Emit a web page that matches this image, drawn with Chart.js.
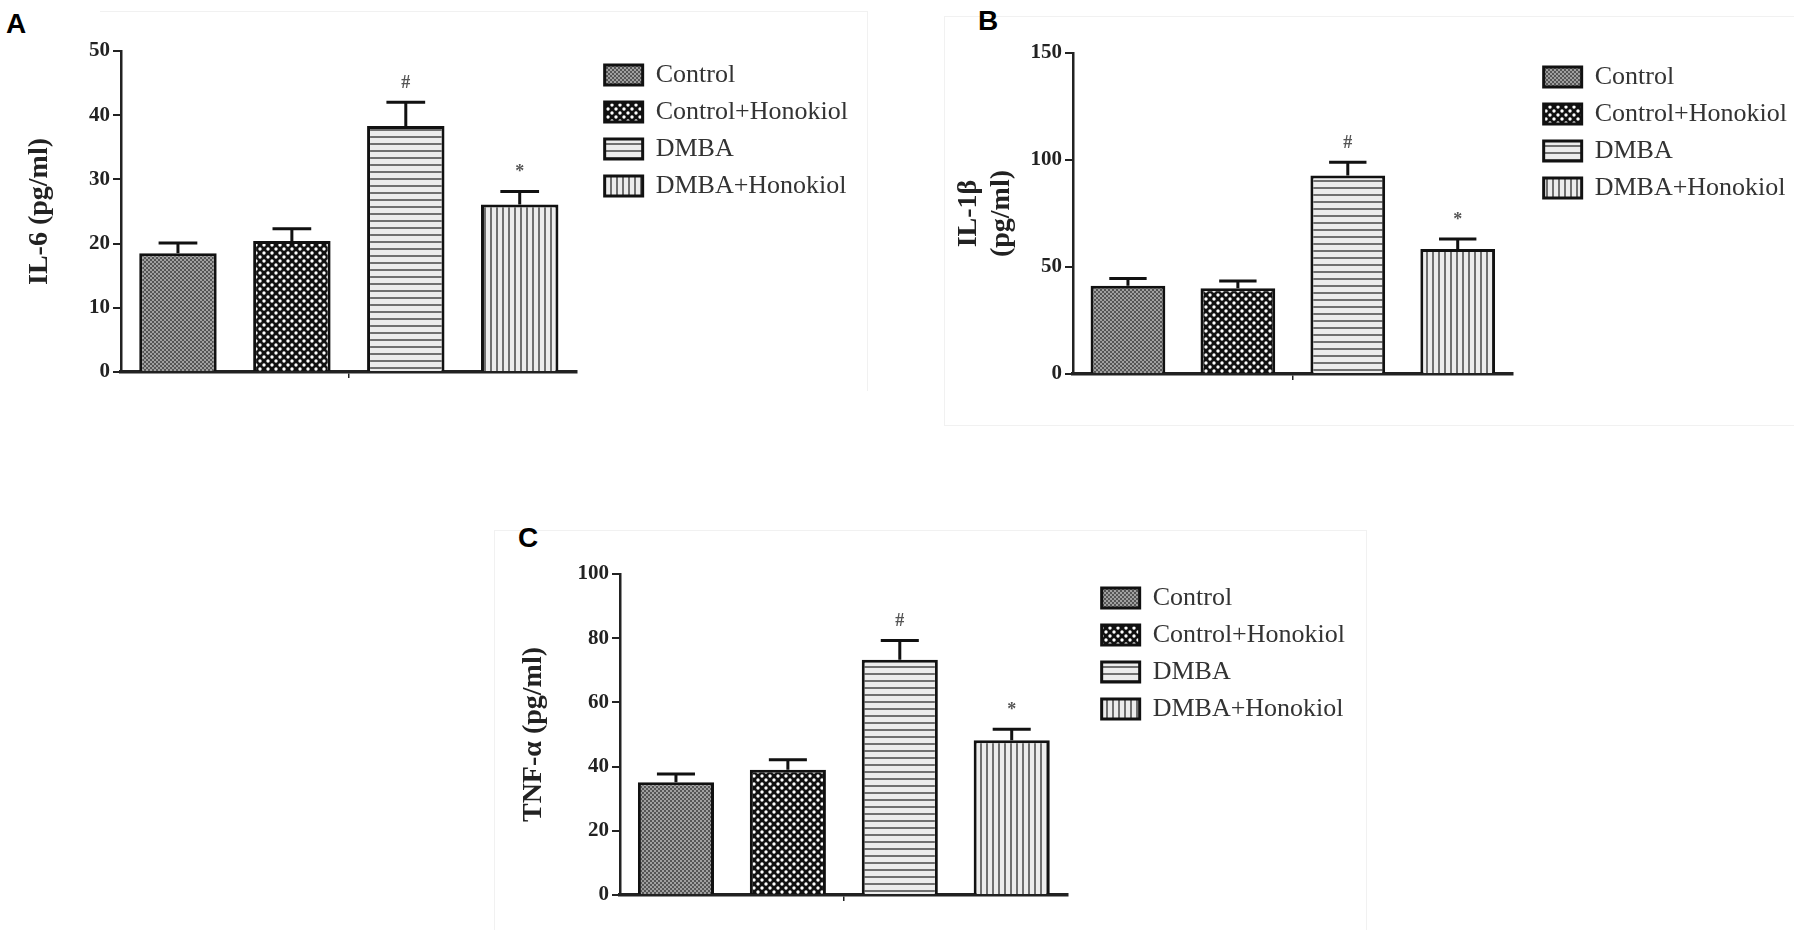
<!DOCTYPE html>
<html>
<head>
<meta charset="utf-8">
<script src="https://cdn.jsdelivr.net/npm/chart.js@4.4.1/dist/chart.umd.min.js"></script>
<style>
html, body { margin: 0; padding: 0; background: #fff; }
body { width: 1800px; height: 936px; position: relative; overflow: hidden; }
.panel { position: absolute; }
.frame { position: absolute; border: 1px solid #f1f1f1; box-sizing: border-box; }
.letter { position: absolute; font-family: 'Liberation Sans', Arial, sans-serif; font-weight: bold; font-size: 28px; line-height: 1; color: #000; }
</style>
</head>
<body>
<div class="frame" style="left:100px;top:11px;width:768px;height:380px;border-left:none;border-bottom:none"></div>
<div class="frame" style="left:944px;top:16px;width:850px;height:410px;border-right:none"></div>
<div class="frame" style="left:494px;top:530px;width:873px;height:400px;border-bottom:none"></div>

<div class="letter" style="left:6px;top:10px">A</div>
<div class="letter" style="left:978px;top:7px">B</div>
<div class="letter" style="left:518px;top:524px">C</div>

<div class="panel" style="left:10px;top:31px;width:848px;height:361px"><canvas id="chartA"></canvas></div>
<div class="panel" style="left:940px;top:33px;width:857px;height:361px"><canvas id="chartB"></canvas></div>
<div class="panel" style="left:500px;top:554px;width:855px;height:361px"><canvas id="chartC"></canvas></div>

<script>
const groups = ['Control', 'Control+Honokiol', 'DMBA', 'DMBA+Honokiol'];
const sigMarks = ['', '', '#', '*'];

const il6Mean = [18.5, 20.4, 38.3, 26.1];
const il6Sem = [1.6, 1.9, 3.7, 2.0];

const il1bMean = [41.2, 40.1, 92.7, 58.4];
const il1bSem = [3.4, 3.3, 6.3, 4.7];

const tnfMean = [35.1, 39.0, 73.3, 48.2];
const tnfSem = [2.6, 3.1, 6.0, 3.4];

const serif = "'Liberation Serif', 'Times New Roman', serif";

// fill patterns like the GraphPad ones
function makePattern(kind) {
    const c = document.createElement('canvas');
    const g = c.getContext('2d');
    if (kind === 'fine') {
        c.width = c.height = 4;
        g.fillStyle = '#a0a0a0';
        g.fillRect(0, 0, 4, 4);
        g.fillStyle = '#555';
        g.fillRect(0, 0, 2, 2);
        g.fillRect(2, 2, 2, 2);
    } else if (kind === 'dots') {
        c.width = c.height = 8;
        g.fillStyle = '#111';
        g.fillRect(0, 0, 8, 8);
        g.fillStyle = '#fff';
        g.beginPath();
        g.arc(2, 2, 1.7, 0, Math.PI * 2);
        g.arc(6, 6, 1.7, 0, Math.PI * 2);
        g.fill();
    } else if (kind === 'hlines') {
        c.width = 7; c.height = 7;
        g.fillStyle = '#ececec';
        g.fillRect(0, 0, 7, 7);
        g.fillStyle = '#707070';
        g.fillRect(0, 0, 7, 2);
    } else {
        c.width = 6; c.height = 6;
        g.fillStyle = '#ececec';
        g.fillRect(0, 0, 6, 6);
        g.fillStyle = '#707070';
        g.fillRect(0, 0, 2, 6);
    }
    return g.createPattern(c, 'repeat');
}

const fills = [makePattern('fine'), makePattern('dots'), makePattern('hlines'), makePattern('vlines')];

const errorBars = {
    id: 'errorBars',
    afterDatasetsDraw(chart) {
        const ctx = chart.ctx;
        const y = chart.scales.y;
        chart.data.datasets.forEach((ds, i) => {
            const bar = chart.getDatasetMeta(i).data[0];
            const top = y.getPixelForValue(ds.data[0] + ds.sem);
            const half = bar.width * 0.25;
            ctx.save();
            ctx.strokeStyle = '#111';
            ctx.lineWidth = 3;
            ctx.beginPath();
            ctx.moveTo(bar.x, bar.y);
            ctx.lineTo(bar.x, top);
            ctx.moveTo(bar.x - half, top);
            ctx.lineTo(bar.x + half, top);
            ctx.stroke();
            if (ds.mark) {
                ctx.fillStyle = '#555';
                ctx.font = 'bold 18px ' + serif;
                ctx.textAlign = 'center';
                ctx.textBaseline = 'middle';
                ctx.fillText(ds.mark, bar.x, top - 19);
            }
            ctx.restore();
        });
    }
};

function makeChart(id, means, sems, yMax, yStep, yTitle, box) {
    const ctx = document.getElementById(id).getContext('2d');
    return new Chart(ctx, {
        type: 'bar',
        data: {
            labels: [''],
            datasets: groups.map((g, i) => ({
                label: g,
                data: [means[i]],
                sem: sems[i],
                mark: sigMarks[i],
                backgroundColor: fills[i],
                borderColor: '#111',
                borderWidth: 3,
                categoryPercentage: 1.0,
                barPercentage: 0.68,
            }))
        },
        options: {
            responsive: true,
            maintainAspectRatio: false,
            animation: false,
            layout: { padding: { top: 20, bottom: 6, left: 0, right: 0 } },
            scales: {
                x: {
                    ticks: { display: false },
                    grid: {
                        display: true, drawOnChartArea: false, drawTicks: true,
                        tickLength: 6, color: '#222', lineWidth: 1.5, offset: false
                    },
                    border: { display: true, color: '#222', width: 3.5 },
                    afterFit: s => { s.height = 14; }
                },
                y: {
                    min: 0,
                    max: yMax,
                    ticks: {
                        stepSize: yStep, color: '#222', padding: 3,
                        font: { family: serif, size: 21, weight: 'bold' }
                    },
                    grid: { drawOnChartArea: false, tickLength: 8, lineWidth: 2, color: '#222' },
                    border: { color: '#222', width: 2.5 },
                    title: {
                        display: true,
                        text: yTitle,
                        color: '#222',
                        font: { family: serif, size: 28, weight: 'bold', lineHeight: box.titleLine },
                        padding: { top: box.titlePad, bottom: 0 }
                    },
                    afterFit: s => { s.width = box.axisWidth; }
                },
                yGap: {
                    type: 'linear',
                    position: 'right',
                    grid: { display: false },
                    ticks: { display: false },
                    border: { display: false },
                    afterFit: s => { s.width = box.gap; }
                }
            },
            plugins: {
                tooltip: { enabled: false },
                legend: {
                    position: 'right',
                    align: 'start',
                    fullSize: false,
                    maxWidth: 320,
                    labels: {
                        boxWidth: 38,
                        boxHeight: 20,
                        padding: 11,
                        color: '#333',
                        font: { family: serif, size: 26 }
                    }
                }
            }
        },
        plugins: [errorBars]
    });
}

makeChart('chartA', il6Mean, il6Sem, 50, 10, 'IL-6 (pg/ml)',
    { axisWidth: 111, titlePad: 13, titleLine: 1.2, gap: 17 });
makeChart('chartB', il1bMean, il1bSem, 150, 50, ['IL-1β', '(pg/ml)'],
    { axisWidth: 133, titlePad: 12.5, titleLine: 1.18, gap: 20 });
makeChart('chartC', tnfMean, tnfSem, 100, 20, 'TNF-α (pg/ml)',
    { axisWidth: 120, titlePad: 17, titleLine: 1.2, gap: 23 });
</script>
</body>
</html>
